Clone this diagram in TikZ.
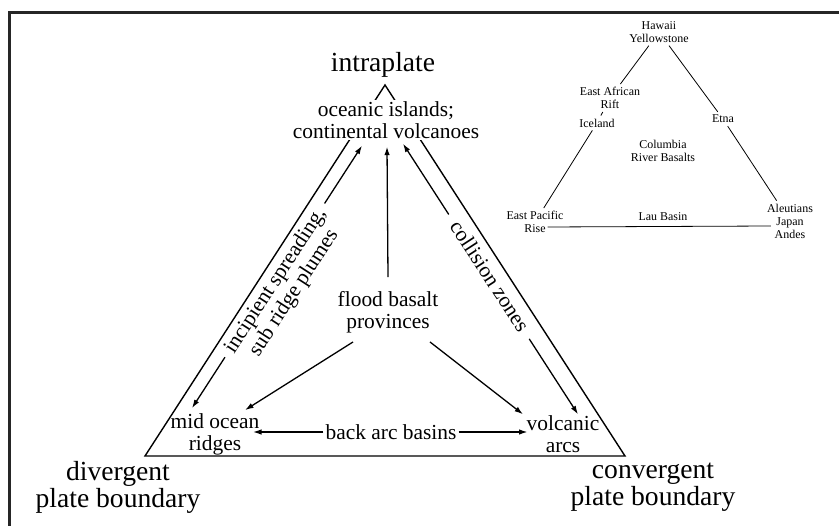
\documentclass[tikz,border=0pt]{standalone}
\usepackage{fontspec}
\setmainfont{Liberation Serif}
\usetikzlibrary{calc}
\usetikzlibrary{arrows.meta}

\begin{document}
\begin{tikzpicture}[x=1bp,y=-1bp,
        big/.style={font=\fontsize{27.7}{27}\selectfont,align=center,inner sep=2bp},
        mid/.style={font=\fontsize{21.5}{22}\selectfont,align=center,inner sep=2bp},
        tiny/.style={font=\fontsize{12}{13}\selectfont,align=center,inner sep=3bp},
        tip/.tip={Latex[length=8.5bp,width=5.5bp]},
        arr/.style={line width=1.3bp,-tip}]
            \useasboundingbox (0,0) rectangle (839,526);
            \draw[line width=3bp,black!85] (9.5,526)--(9.5,12.5)--(839,12.5);
            % big triangle
            \coordinate (top) at (385,85);
            \coordinate (lft) at (145,456);
            \coordinate (rgt) at (625,456);
            \draw[line width=1.4bp] (lft)--(top)--(rgt)--cycle;
            \node[big] (intra) at (383,65) {intraplate};
            \node[mid,fill=white] (volc) at (386,120) {oceanic islands;\\continental volcanoes};
            \node[mid] (flood) at (388,312) {flood basalt\\provinces};
            \node[mid] (ridges) at (215,434) {mid ocean\\ridges};
            \node[mid] (arcs) at (563,434) {volcanic\\arcs};
            \node[mid] (backarc) at (391,432) {back arc basins};
            \node[big] (div) at (118,487) {divergent\\plate boundary};
            \node[big] (conv) at (653,487) {convergent\\plate boundary};
            \draw[arr] ([shift={(0,-12)}]flood.north)--([shift={(1,6)}]volc.south);
            \draw[arr] ([shift={(-35,7)}]flood.south)--([shift={(30,-1)}]ridges.north);
            \draw[arr] ([shift={(42,7)}]flood.south)--([shift={(-40,1)}]arcs.north);
            \draw[arr,tip-tip] ([shift={(-23,-3)}]ridges.north)--([shift={(-24,5)}]volc.south);
            \draw[arr,tip-tip] ([shift={(15,1)}]arcs.north)--([shift={(17,3)}]volc.south);
            \draw[arr,shorten >=-8.5bp] (backarc.west)--(backarc.west -| ridges.east);
            \draw[arr,shorten >=-3bp] (backarc.east)--(backarc.east -| arcs.west);
            \node[mid,fill=white,rotate=57,inner xsep=7bp,inner ysep=0bp] (spread) at (285,287) {incipient spreading,\\sub ridge plumes};
            \node[mid,fill=white,rotate=-57,inner xsep=10bp,inner ysep=0bp] (collide) at (490,276) {collision zones};
            % small triangle
            \node[tiny] (hawaii) at (659,32) {Hawaii\\Yellowstone};
            \node[tiny] (ear) at (610,98) {East African\\Rift};
            \node[tiny] (ice) at (597,123) {Iceland};
            \node[tiny] (epr) at (535,222) {East Pacific\\Rise};
            \node[tiny] (lau) at (663,217) {Lau Basin};
            \node[tiny] (aja) at (790,221) {Aleutians\\Japan\\Andes};
            \node[tiny] (etna) at (723,119) {Etna};
            \node[tiny] (crb) at (663,151) {Columbia\\River Basalts};
            \draw[line width=0.8bp] (hawaii)--(ear);
            \draw[line width=0.8bp] (ear)--(ice);
            \draw[line width=0.8bp] (ice)--(epr);
            \draw[line width=0.8bp] (hawaii)--(etna);
            \draw[line width=0.8bp] (etna)--(aja);
            \draw[line width=0.8bp] ([shift={(-19,5)}]epr.east)--([shift={(7,5)}]aja.west);
\end{tikzpicture}
\end{document}
